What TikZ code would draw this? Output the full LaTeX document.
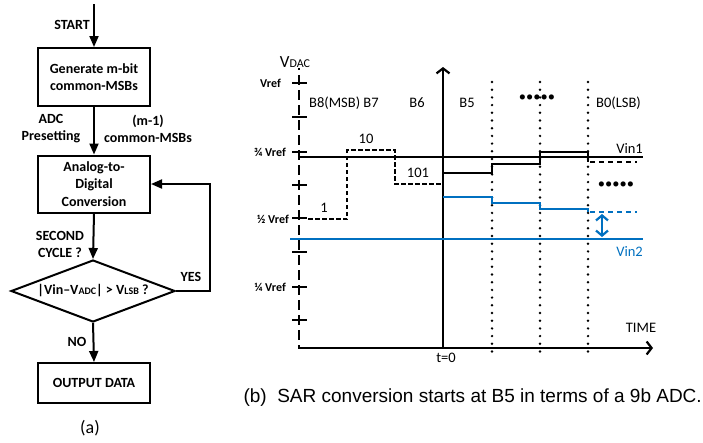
\documentclass[tikz,border=0pt]{standalone}
\usepackage{fontspec}
\setmainfont{Carlito}
\newfontfamily\capfont{Liberation Sans}
\usetikzlibrary{arrows.meta,shapes.geometric}
\definecolor{vblue}{RGB}{0,112,192}
\begin{document}
\begin{tikzpicture}[x=1pt,y=-1pt,
  flowtxt/.style={font=\fontsize{14}{17}\selectfont\bfseries, align=center, inner sep=0pt},
  fbox/.style={draw, line width=2pt, minimum width=112pt, inner sep=0pt, align=center, font=\fontsize{14}{17.5}\selectfont\bfseries},
  flowarrow/.style={line width=2pt, -{Triangle[length=11pt,width=9pt]}},
  axisline/.style={line width=2.2pt},
  barb/.style={-{Straight Barb[length=5pt,width=13pt]}},
  tickline/.style={line width=2.2pt},
  dotline/.style={line width=2.7pt, line cap=round, dash pattern=on 0pt off 7.7pt},
  stairdash/.style={line width=2.2pt, dash pattern=on 4.5pt off 2.5pt},
  taildash/.style={line width=2.2pt, dash pattern=on 5pt off 4pt},
  gtxt/.style={font=\fontsize{14.5}{17}\selectfont, inner sep=0pt},
  reftxt/.style={font=\fontsize{12}{13}\selectfont\bfseries, inner sep=0pt, anchor=east},
  ]
\useasboundingbox (0,0) rectangle (703,442);

% ---------------- flowchart (a)
\coordinate (s0) at (94,4);
\node[fbox, minimum height=58pt] (b1) at (94,77) {Generate m-bit\\common-MSBs};
\node[fbox, minimum height=57pt] (b2) at (94,184) {Analog-to-\\Digital\\Conversion};
\node[draw, line width=2pt, diamond, aspect=2.65, minimum width=164pt, minimum height=62pt, inner sep=0pt,
      font=\fontsize{14}{17}\selectfont\bfseries] (dia) at (93,291)
      {|Vin–V{\fontsize{10}{10}\selectfont ADC}| > V{\fontsize{10}{10}\selectfont LSB} ?};
\node[fbox, minimum height=40pt] (b3) at (94,383) {OUTPUT DATA};

\draw[flowarrow] (s0) -- (b1.north);
\draw[flowarrow] (b1.south) -- (b2.north);
\draw[flowarrow] (b2.south) -- (dia.north);
\draw[flowarrow] (dia.south) -- (b3.north);
\coordinate (fb) at (210,291);
\draw[flowarrow] (dia.east) -- (fb) |- (b2.east);

\node[flowtxt, anchor=east] (tstart) at (90,25) {START};
\node[flowtxt] (tadc) at (51,129) {ADC\\Presetting};
\node[flowtxt] (tmsb) at (148,129) {(m-1)\\common-MSBs};
\node[flowtxt] (tsec) at (60,244) {SECOND\\CYCLE ?};
\node[flowtxt] (tyes) at (191,277) {YES};
\node[flowtxt] (tno) at (77,342) {NO};
\node[font=\fontsize{18}{20}\selectfont, inner sep=0pt] (ta) at (90,428) {(a)};

% ---------------- plot (b)
\draw[axisline, dash pattern=on 10pt off 5pt, dash phase=8pt] (299,68) -- (299,348);
\foreach \yy in {83,117,152,185,218,252,287,320}
  \draw[tickline] (292,\yy) -- (307,\yy);
\draw[axisline, barb] (298,348) -- (653,348);
\draw[axisline, barb] (443,348) -- (443,67);
\foreach \xx in {492,540,588}
  \draw[dotline] (\xx,82) -- (\xx,357);

% input levels
\draw[line width=1.3pt] (298,157) -- (643,157);
\draw[vblue, line width=1.3pt] (290,239) -- (643,239);

% common-MSB staircase (dashed)
\draw[stairdash] (308,219) -- (347,219) -- (347,150) -- (395,150) -- (395,184) -- (442,184);
% SAR conversion Vin1
\draw[line width=2.2pt] (443,173) -- (492,173) -- (492,164) -- (540,164) -- (540,152) -- (588,152) -- (588,162);
\draw[taildash] (590,162) -- (637,162);
% SAR conversion Vin2
\draw[vblue, line width=2.2pt] (443,197) -- (492,197) -- (492,203) -- (540,203) -- (540,209) -- (588,209) -- (588,212);
\draw[vblue, taildash] (590,212) -- (637,212);
\draw[vblue, line width=2.2pt, {Straight Barb[length=5pt,width=12pt]}-{Straight Barb[length=5pt,width=12pt]}] (602,214) -- (602,237);

% labels
\node[inner sep=0pt] (vdac) at (295,62) {\fontsize{17}{18}\selectfont V\fontsize{12}{13}\selectfont DAC};
\node[reftxt] (lr1) at (281,83) {Vref};
\node[reftxt] (lr2) at (286,152) {¾ Vref};
\node[reftxt] (lr3) at (289,219) {½ Vref};
\node[reftxt] (lr4) at (286,287) {¼ Vref};

\node[gtxt, anchor=west] (lb8) at (309,103) {B8(MSB) B7};
\node[gtxt] (lb6) at (417,103) {B6};
\node[gtxt] (lb5) at (467,103) {B5};
\node[gtxt] (dots1) at (537,98) {•••••};
\node[gtxt, anchor=west] (lb0) at (596,103) {B0(LSB)};
\node[gtxt] (l1) at (324,208) {1};
\node[gtxt] (l10) at (366,139) {10};
\node[gtxt] (l101) at (418,173) {101};
\node[gtxt, anchor=east] (lvin1) at (643,149) {Vin1};
\node[gtxt] (dots2) at (616,185) {•••••};
\node[gtxt, anchor=east, text=vblue] (lvin2) at (643,252) {Vin2};
\node[gtxt] (ltime) at (641,328) {TIME};
\node[gtxt] (lt0) at (446,358) {t=0};

\node[anchor=base east, inner sep=0pt, font=\capfont\fontsize{19}{20}\selectfont] (cap) at (702,402)
  {(b)\ \ SAR conversion starts at B5 in terms of a 9b ADC.};
\end{tikzpicture}
\end{document}
